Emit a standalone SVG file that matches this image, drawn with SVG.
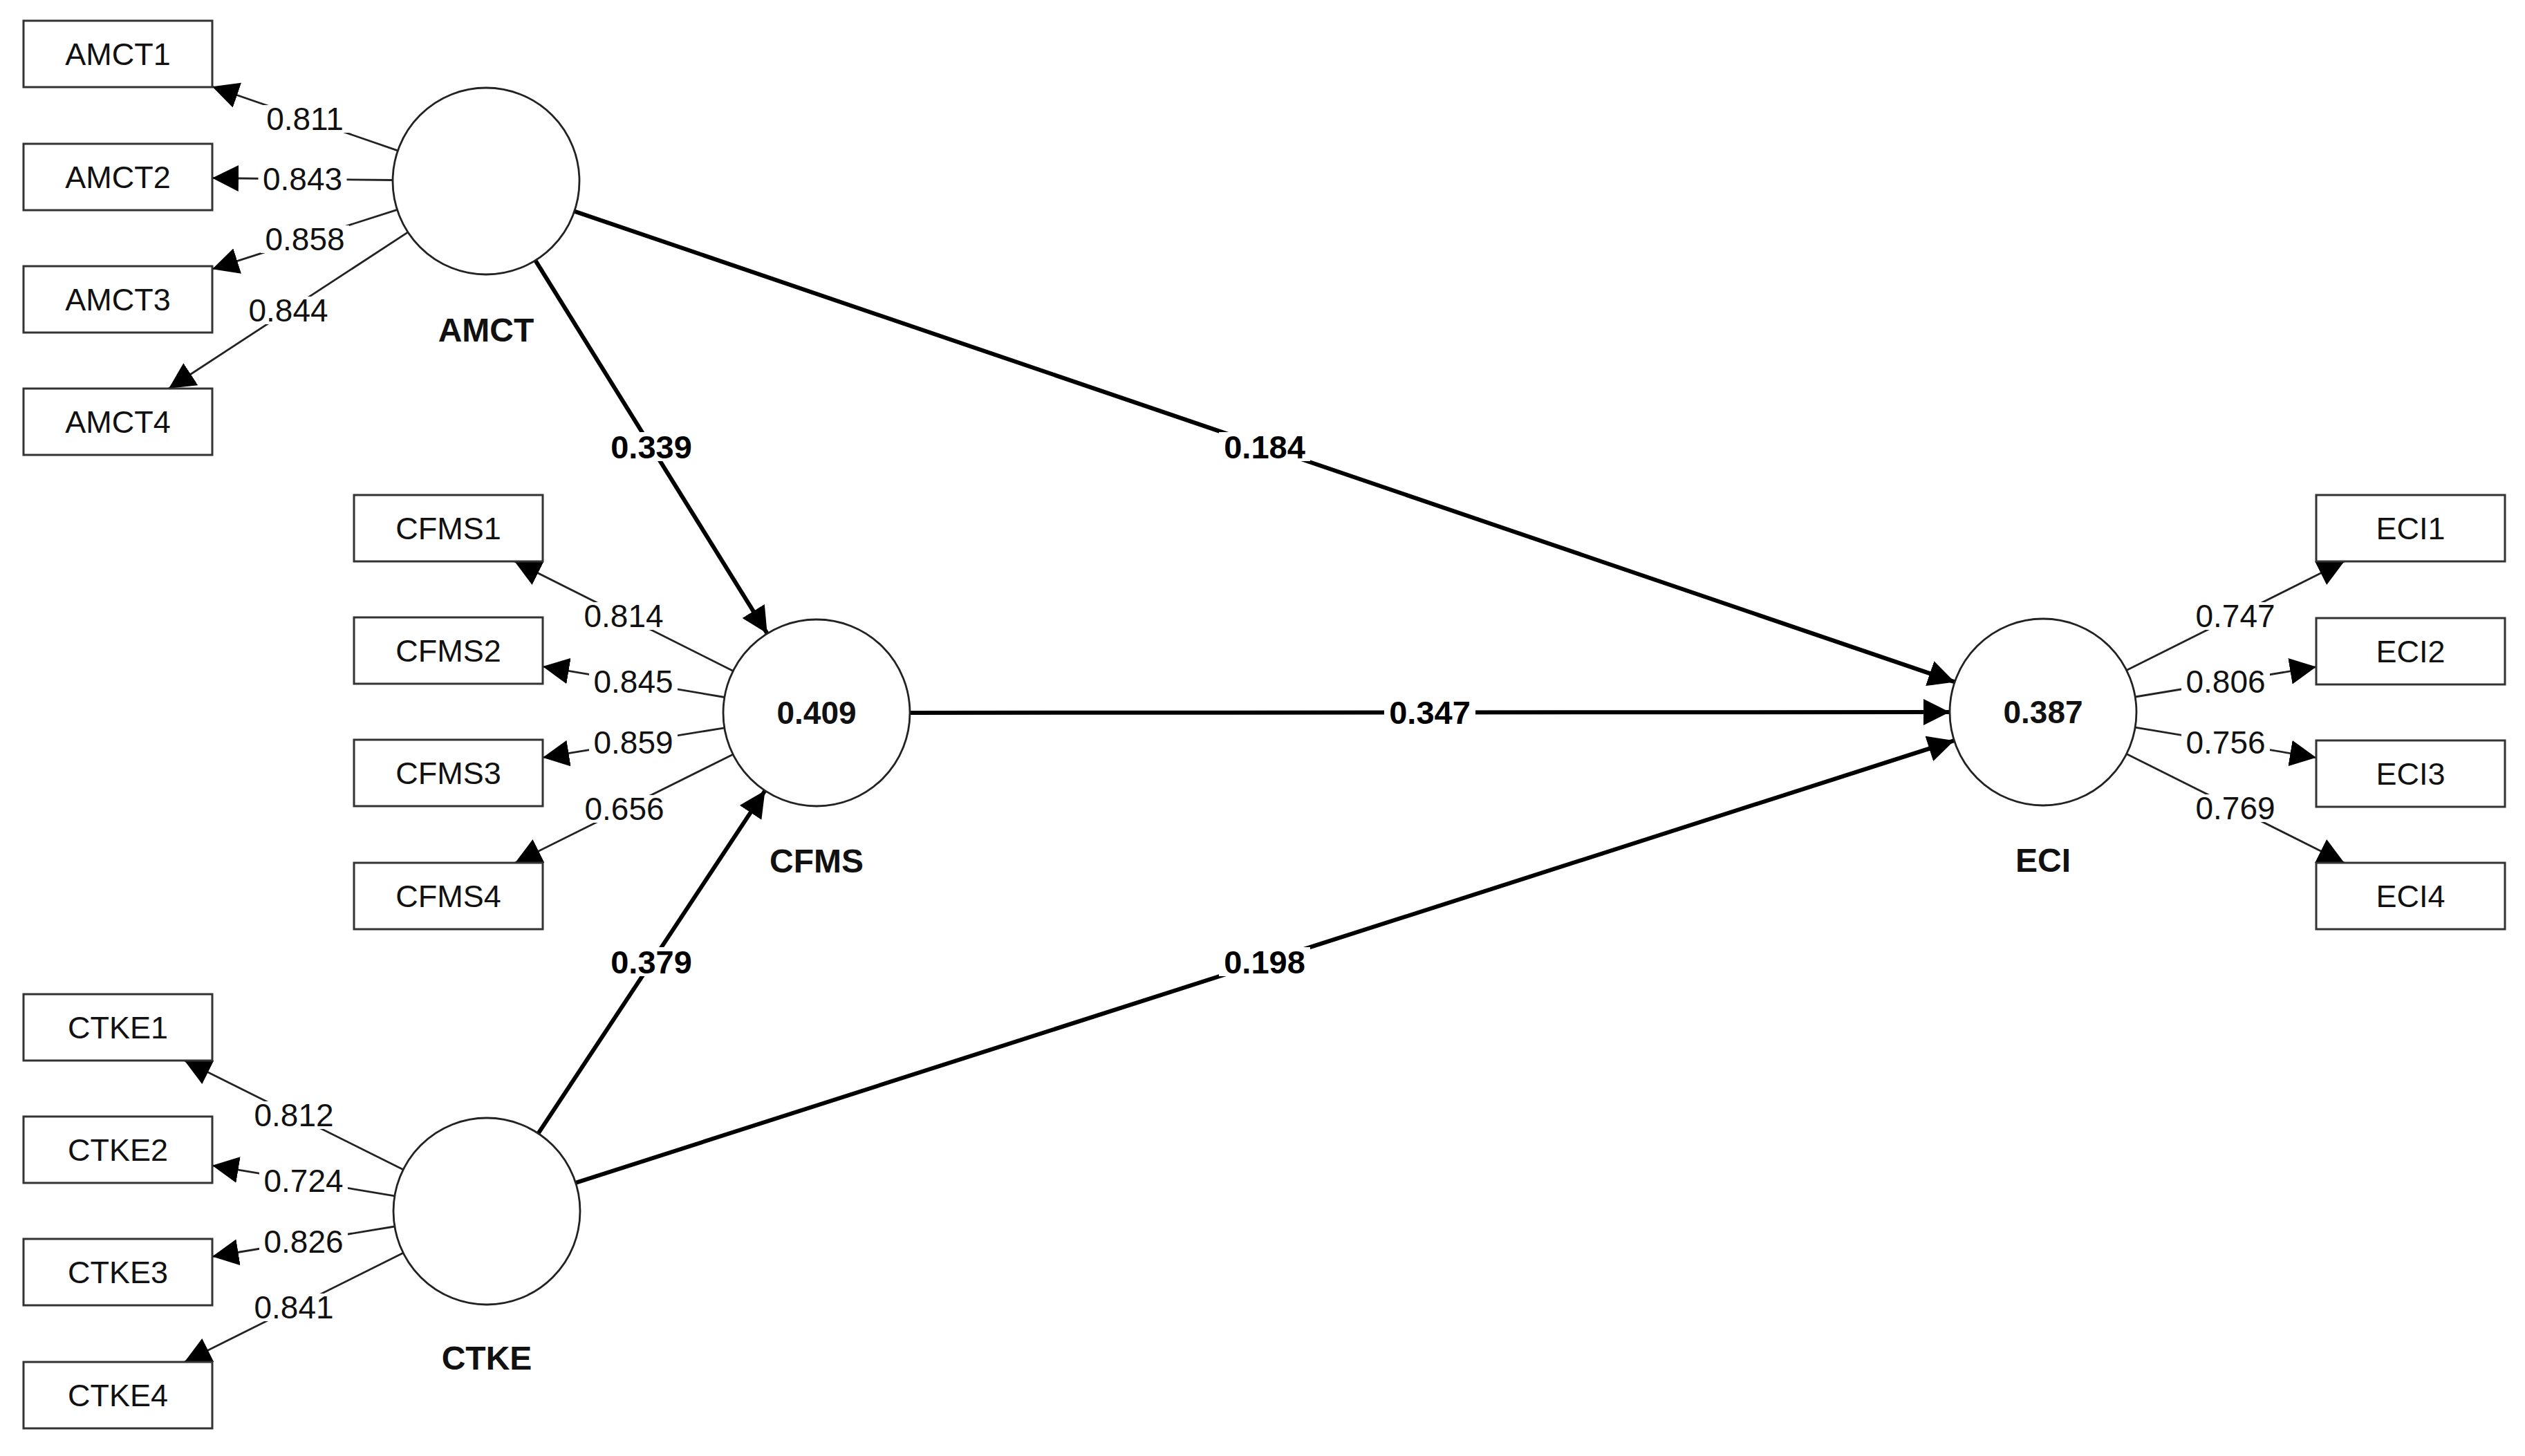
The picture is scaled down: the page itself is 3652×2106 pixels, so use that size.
<svg xmlns="http://www.w3.org/2000/svg" width="3652" height="2106" viewBox="0 0 3652 2106">
<defs>
<marker id="ah" markerUnits="userSpaceOnUse" markerWidth="40" markerHeight="38" refX="38" refY="19" orient="auto">
<path d="M0,0 L38,19 L0,38 z" fill="#000"/>
</marker>
<style>
.box{fill:#fff;stroke:#333;stroke-width:3}
.lat{fill:#fff;stroke:#222;stroke-width:2.8}
.bt{font-family:"Liberation Sans",Arial,sans-serif;font-size:45px;fill:#111;text-anchor:middle}
.ln{font-family:"Liberation Sans",Arial,sans-serif;font-size:48px;font-weight:bold;fill:#111;text-anchor:middle}
.r2{font-family:"Liberation Sans",Arial,sans-serif;font-size:46px;font-weight:bold;fill:#111;text-anchor:middle}
.ld{stroke:#222;stroke-width:2.8;fill:none;marker-end:url(#ah)}
.pth{stroke:#000;stroke-width:6;fill:none;marker-end:url(#ah)}
.bg{fill:#fff}
.lt{font-family:"Liberation Sans",Arial,sans-serif;font-size:46px;fill:#111;text-anchor:middle}
.pt{font-family:"Liberation Sans",Arial,sans-serif;font-size:47px;font-weight:bold;fill:#000;text-anchor:middle}
</style>
</defs>
<rect width="3652" height="2106" fill="#fff"/>
<g id="connectors">
<line class="pth" x1="774.3" y1="376.7" x2="1109.7" y2="916.3"/>
<line class="pth" x1="830.8" y1="305.6" x2="2827.2" y2="986.4"/>
<line class="pth" x1="1316" y1="1031" x2="2820" y2="1030"/>
<line class="pth" x1="778.5" y1="1639.4" x2="1106.5" y2="1143.6"/>
<line class="pth" x1="832.5" y1="1710.8" x2="2826.5" y2="1071.2"/>
<line class="ld" x1="575.4" y1="217.9" x2="307" y2="125.2"/>
<line class="ld" x1="568" y1="260.5" x2="307" y2="257.5"/>
<line class="ld" x1="574.5" y1="303.3" x2="307" y2="389.2"/>
<line class="ld" x1="590" y1="335.9" x2="244" y2="562"/>
<line class="ld" x1="1060.3" y1="970.5" x2="744.2" y2="812"/>
<line class="ld" x1="1047.9" y1="1008.5" x2="785" y2="964.1"/>
<line class="ld" x1="1047.8" y1="1052.8" x2="785" y2="1095.7"/>
<line class="ld" x1="1060.1" y1="1091.2" x2="745" y2="1248"/>
<line class="ld" x1="583.2" y1="1691.8" x2="266.8" y2="1534"/>
<line class="ld" x1="570.8" y1="1729.8" x2="307" y2="1685.8"/>
<line class="ld" x1="570.8" y1="1774" x2="307" y2="1817.5"/>
<line class="ld" x1="583.2" y1="1812.2" x2="266.8" y2="1970"/>
<line class="ld" x1="3075.7" y1="969.6" x2="3390.6" y2="812"/>
<line class="ld" x1="3088.2" y1="1008" x2="3350" y2="964.6"/>
<line class="ld" x1="3088.2" y1="1052.2" x2="3350" y2="1095.8"/>
<line class="ld" x1="3075.7" y1="1090.4" x2="3390.6" y2="1248"/>
<rect class="bg" x="876" y="625" width="132" height="42"/><text class="pt" x="942" y="663">0.339</text>
<rect class="bg" x="1763" y="625" width="132" height="42"/><text class="pt" x="1829" y="663">0.184</text>
<rect class="bg" x="2002" y="1009" width="132" height="42"/><text class="pt" x="2068" y="1047">0.347</text>
<rect class="bg" x="876" y="1370" width="132" height="42"/><text class="pt" x="942" y="1408">0.379</text>
<rect class="bg" x="1763" y="1370" width="132" height="42"/><text class="pt" x="1829" y="1408">0.198</text>
<rect class="bg" x="377" y="152" width="128" height="40"/><text class="lt" x="441" y="188">0.811</text>
<rect class="bg" x="373.5" y="239" width="128" height="40"/><text class="lt" x="437.5" y="275">0.843</text>
<rect class="bg" x="377" y="326" width="128" height="40"/><text class="lt" x="441" y="362">0.858</text>
<rect class="bg" x="353" y="429" width="128" height="40"/><text class="lt" x="417" y="465">0.844</text>
<rect class="bg" x="838" y="871" width="128" height="40"/><text class="lt" x="902" y="907">0.814</text>
<rect class="bg" x="852" y="966" width="128" height="40"/><text class="lt" x="916" y="1002">0.845</text>
<rect class="bg" x="852" y="1054" width="128" height="40"/><text class="lt" x="916" y="1090">0.859</text>
<rect class="bg" x="839" y="1150" width="128" height="40"/><text class="lt" x="903" y="1186">0.656</text>
<rect class="bg" x="361" y="1593" width="128" height="40"/><text class="lt" x="425" y="1629">0.812</text>
<rect class="bg" x="375" y="1688" width="128" height="40"/><text class="lt" x="439" y="1724">0.724</text>
<rect class="bg" x="375" y="1776" width="128" height="40"/><text class="lt" x="439" y="1812">0.826</text>
<rect class="bg" x="361" y="1871" width="128" height="40"/><text class="lt" x="425" y="1907">0.841</text>
<rect class="bg" x="3169" y="871" width="128" height="40"/><text class="lt" x="3233" y="907">0.747</text>
<rect class="bg" x="3155" y="966" width="128" height="40"/><text class="lt" x="3219" y="1002">0.806</text>
<rect class="bg" x="3155" y="1054" width="128" height="40"/><text class="lt" x="3219" y="1090">0.756</text>
<rect class="bg" x="3169" y="1149" width="128" height="40"/><text class="lt" x="3233" y="1185">0.769</text>
</g>
<g id="AMCT"><circle class="lat" cx="703" cy="262" r="135"/><text class="ln" x="703" y="494">AMCT</text></g>
<g id="CFMS"><circle class="lat" cx="1181" cy="1031" r="135"/><text class="r2" x="1181" y="1047">0.409</text><text class="ln" x="1181" y="1262">CFMS</text></g>
<g id="CTKE"><circle class="lat" cx="704" cy="1752" r="135"/><text class="ln" x="704" y="1981">CTKE</text></g>
<g id="ECI"><circle class="lat" cx="2955" cy="1030" r="135"/><text class="r2" x="2955" y="1046">0.387</text><text class="ln" x="2955" y="1261">ECI</text></g>
<g id="AMCT1"><rect class="box" x="34" y="30" width="273" height="96"/><text class="bt" x="170.5" y="94">AMCT1</text></g>
<g id="AMCT2"><rect class="box" x="34" y="208" width="273" height="96"/><text class="bt" x="170.5" y="272">AMCT2</text></g>
<g id="AMCT3"><rect class="box" x="34" y="385" width="273" height="96"/><text class="bt" x="170.5" y="449">AMCT3</text></g>
<g id="AMCT4"><rect class="box" x="34" y="562" width="273" height="96"/><text class="bt" x="170.5" y="626">AMCT4</text></g>
<g id="CFMS1"><rect class="box" x="512" y="716" width="273" height="96"/><text class="bt" x="648.5" y="780">CFMS1</text></g>
<g id="CFMS2"><rect class="box" x="512" y="893" width="273" height="96"/><text class="bt" x="648.5" y="957">CFMS2</text></g>
<g id="CFMS3"><rect class="box" x="512" y="1070" width="273" height="96"/><text class="bt" x="648.5" y="1134">CFMS3</text></g>
<g id="CFMS4"><rect class="box" x="512" y="1248" width="273" height="96"/><text class="bt" x="648.5" y="1312">CFMS4</text></g>
<g id="CTKE1"><rect class="box" x="34" y="1438" width="273" height="96"/><text class="bt" x="170.5" y="1502">CTKE1</text></g>
<g id="CTKE2"><rect class="box" x="34" y="1615" width="273" height="96"/><text class="bt" x="170.5" y="1679">CTKE2</text></g>
<g id="CTKE3"><rect class="box" x="34" y="1792" width="273" height="96"/><text class="bt" x="170.5" y="1856">CTKE3</text></g>
<g id="CTKE4"><rect class="box" x="34" y="1970" width="273" height="96"/><text class="bt" x="170.5" y="2034">CTKE4</text></g>
<g id="ECI1"><rect class="box" x="3350" y="716" width="273" height="96"/><text class="bt" x="3486.5" y="780">ECI1</text></g>
<g id="ECI2"><rect class="box" x="3350" y="894" width="273" height="96"/><text class="bt" x="3486.5" y="958">ECI2</text></g>
<g id="ECI3"><rect class="box" x="3350" y="1071" width="273" height="96"/><text class="bt" x="3486.5" y="1135">ECI3</text></g>
<g id="ECI4"><rect class="box" x="3350" y="1248" width="273" height="96"/><text class="bt" x="3486.5" y="1312">ECI4</text></g>
</svg>
